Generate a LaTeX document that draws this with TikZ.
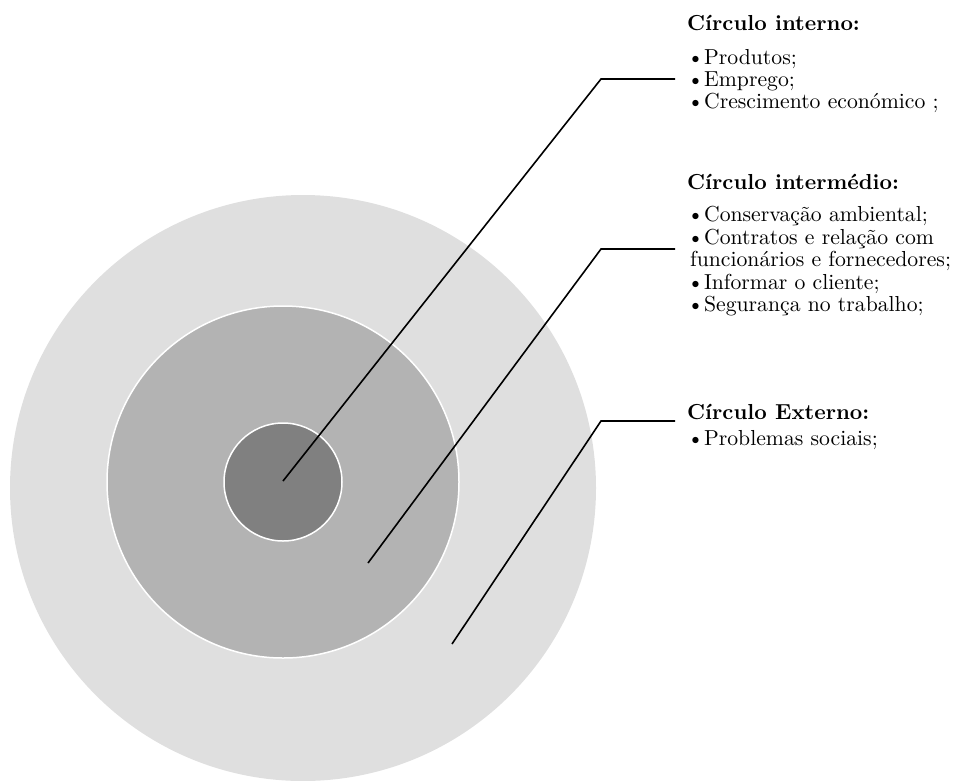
\documentclass[tikz,border=0pt]{standalone}
\usepackage{fontspec}
\setmainfont{lmroman10-regular.otf}[BoldFont=lmroman10-bold.otf]
\usepackage{tikz}
\usetikzlibrary{positioning}
\definecolor{ringout}{RGB}{223,223,223}
\definecolor{ringmid}{RGB}{179,179,179}
\definecolor{ringin}{RGB}{128,128,128}
\tikzset{
  ring/.style={draw=white,line width=1.5pt},
  lbl/.style={anchor=base west,inner sep=0pt,font=\fontsize{21.7}{22}\selectfont},
  hd/.style={lbl,font=\fontsize{21.7}{22}\selectfont\bfseries},
  lead/.style={draw=black,line width=1.6pt,line join=miter},
}
\begin{document}
\begin{tikzpicture}[x=1pt,y=-1pt]
  \useasboundingbox (0,0) rectangle (955,780);
  % rings
  \fill[ringout] (303,488) circle[radius=293];
  \filldraw[ring,fill=ringmid] (283,482) circle[radius=176];
  \filldraw[ring,fill=ringin] (283,482) circle[radius=59];
  % leader points
  \coordinate (inpt) at (283,481);
  \coordinate (midpt) at (368,563);
  \coordinate (outpt) at (452,644);
  \coordinate (inknee) at (601,79);
  \coordinate (midknee) at (601,249);
  \coordinate (outknee) at (601,421);
  \coordinate (inend) at (675,79);
  \coordinate (midend) at (675,249);
  \coordinate (outend) at (675,421);
  % labels
  \node[hd] (inhead) at (687,30) {Círculo interno:};
  \node[lbl] (prod) at (687,64) {\textbullet Produtos;};
  \node[lbl] (emp) at (687,86) {\textbullet Emprego;};
  \node[lbl] (cresc) at (687,108) {\textbullet Crescimento económico ;};
  \node[hd] (midhead) at (687,189) {Círculo intermédio:};
  \node[lbl] (cons) at (687,221) {\textbullet Conservação ambiental;};
  \node[lbl] (contr) at (687,244) {\textbullet Contratos e relação com};
  \node[lbl] (func) at (690,266) {funcionários e fornecedores;};
  \node[lbl] (info) at (687,289) {\textbullet Informar o cliente;};
  \node[lbl] (seg) at (687,311) {\textbullet Segurança no trabalho;};
  \node[hd] (outhead) at (687,419) {Círculo Externo:};
  \node[lbl] (soc) at (687,445) {\textbullet Problemas sociais;};
  % leaders
  \draw[lead] (inpt) -- (inknee) -- (inend);
  \draw[lead] (midpt) -- (midknee) -- (midend);
  \draw[lead] (outpt) -- (outknee) -- (outend);
\end{tikzpicture}
\end{document}
